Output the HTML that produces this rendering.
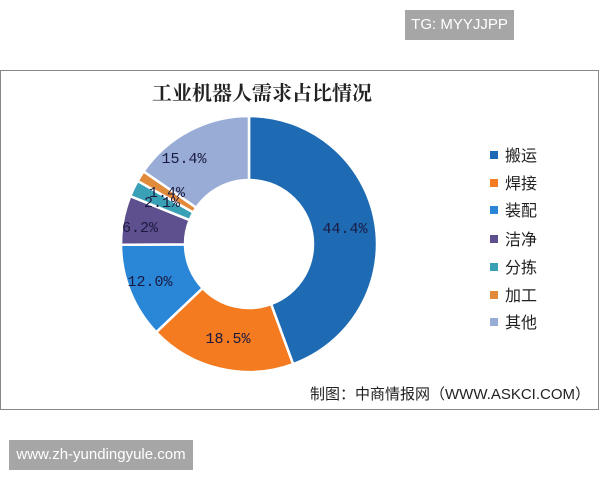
<!DOCTYPE html>
<html><head><meta charset="utf-8"><style>
body{margin:0;width:600px;height:480px;background:#fff;position:relative;overflow:hidden;font-family:"Liberation Sans","Noto Sans CJK SC",sans-serif}
.tg{position:absolute;left:405px;top:10px;width:109px;height:30px;background:#a6a6a6;color:#fff;font-size:15px;line-height:30px;text-align:center}
.url{position:absolute;left:9px;top:440px;width:184px;height:30px;background:#a6a6a6;color:#fff;font-size:15px;line-height:30px;text-align:center}
.frame{position:absolute;left:0;top:70px;width:597px;height:338px;border:1px solid #888;background:#fff}
</style></head><body>
<div class="tg">TG: MYYJJPP</div>
<div class="frame"></div>
<svg width="600" height="480" style="position:absolute;left:0;top:0">
<text x="262" y="100" text-anchor="middle" font-family="Noto Serif CJK SC,serif" font-weight="bold" font-size="20" fill="#222">工业机器人需求占比情况</text>
<g id="d"></g>
<g font-family="Liberation Mono,monospace" font-size="15" fill="#1a1a40" text-anchor="middle">
<text x="345" y="233">44.4%</text>
<text x="228" y="343">18.5%</text>
<text x="150" y="286">12.0%</text>
<text x="140" y="232">6.2%</text>
<text x="162" y="207">2.1%</text>
<text x="167" y="197">1.4%</text>
<text x="184" y="163">15.4%</text>
</g>
<g font-family="Noto Sans CJK SC,sans-serif" font-size="16" fill="#222">
<rect x="490" y="151" width="8" height="8" fill="#1f6bb3"/><text x="505" y="161">搬运</text>
<rect x="490" y="179" width="8" height="8" fill="#f47b20"/><text x="505" y="189">焊接</text>
<rect x="490" y="206" width="8" height="8" fill="#2a86d6"/><text x="505" y="216">装配</text>
<rect x="490" y="235" width="8" height="8" fill="#5e4f8f"/><text x="505" y="245">洁净</text>
<rect x="490" y="263" width="8" height="8" fill="#3aa0b5"/><text x="505" y="273">分拣</text>
<rect x="490" y="291" width="8" height="8" fill="#e08a3a"/><text x="505" y="301">加工</text>
<rect x="490" y="318" width="8" height="8" fill="#98acd6"/><text x="505" y="328">其他</text>
</g>
<text x="590" y="399" text-anchor="end" font-family="Liberation Sans,Noto Sans CJK SC,sans-serif" font-size="15" fill="#222">制图：中商情报网（WWW.ASKCI.COM）</text>
</svg>
<div class="url">www.zh-yundingyule.com</div>
<script>
var v=[44.4,18.5,12.0,6.2,2.1,1.4,15.4],c=["#1f6bb3","#f47b20","#2a86d6","#5e4f8f","#3aa0b5","#e08a3a","#98acd6"];
var cx=249,cy=244,R=128,r=64,a=0,s="";
function p(rad,ang){return [cx+rad*Math.sin(ang),cy-rad*Math.cos(ang)]}
v.forEach(function(x,i){var b=a+x/100*2*Math.PI,l=(b-a)>Math.PI?1:0;
var A=p(R,a),B=p(R,b),C=p(r,b),D=p(r,a);
s+='<path d="M'+A+' A'+R+' '+R+' 0 '+l+' 1 '+B+' L'+C+' A'+r+' '+r+' 0 '+l+' 0 '+D+'Z" fill="'+c[i]+'" stroke="#fff" stroke-width="2.5"/>';a=b;});
document.getElementById("d").innerHTML=s;
</script>
</body></html>
